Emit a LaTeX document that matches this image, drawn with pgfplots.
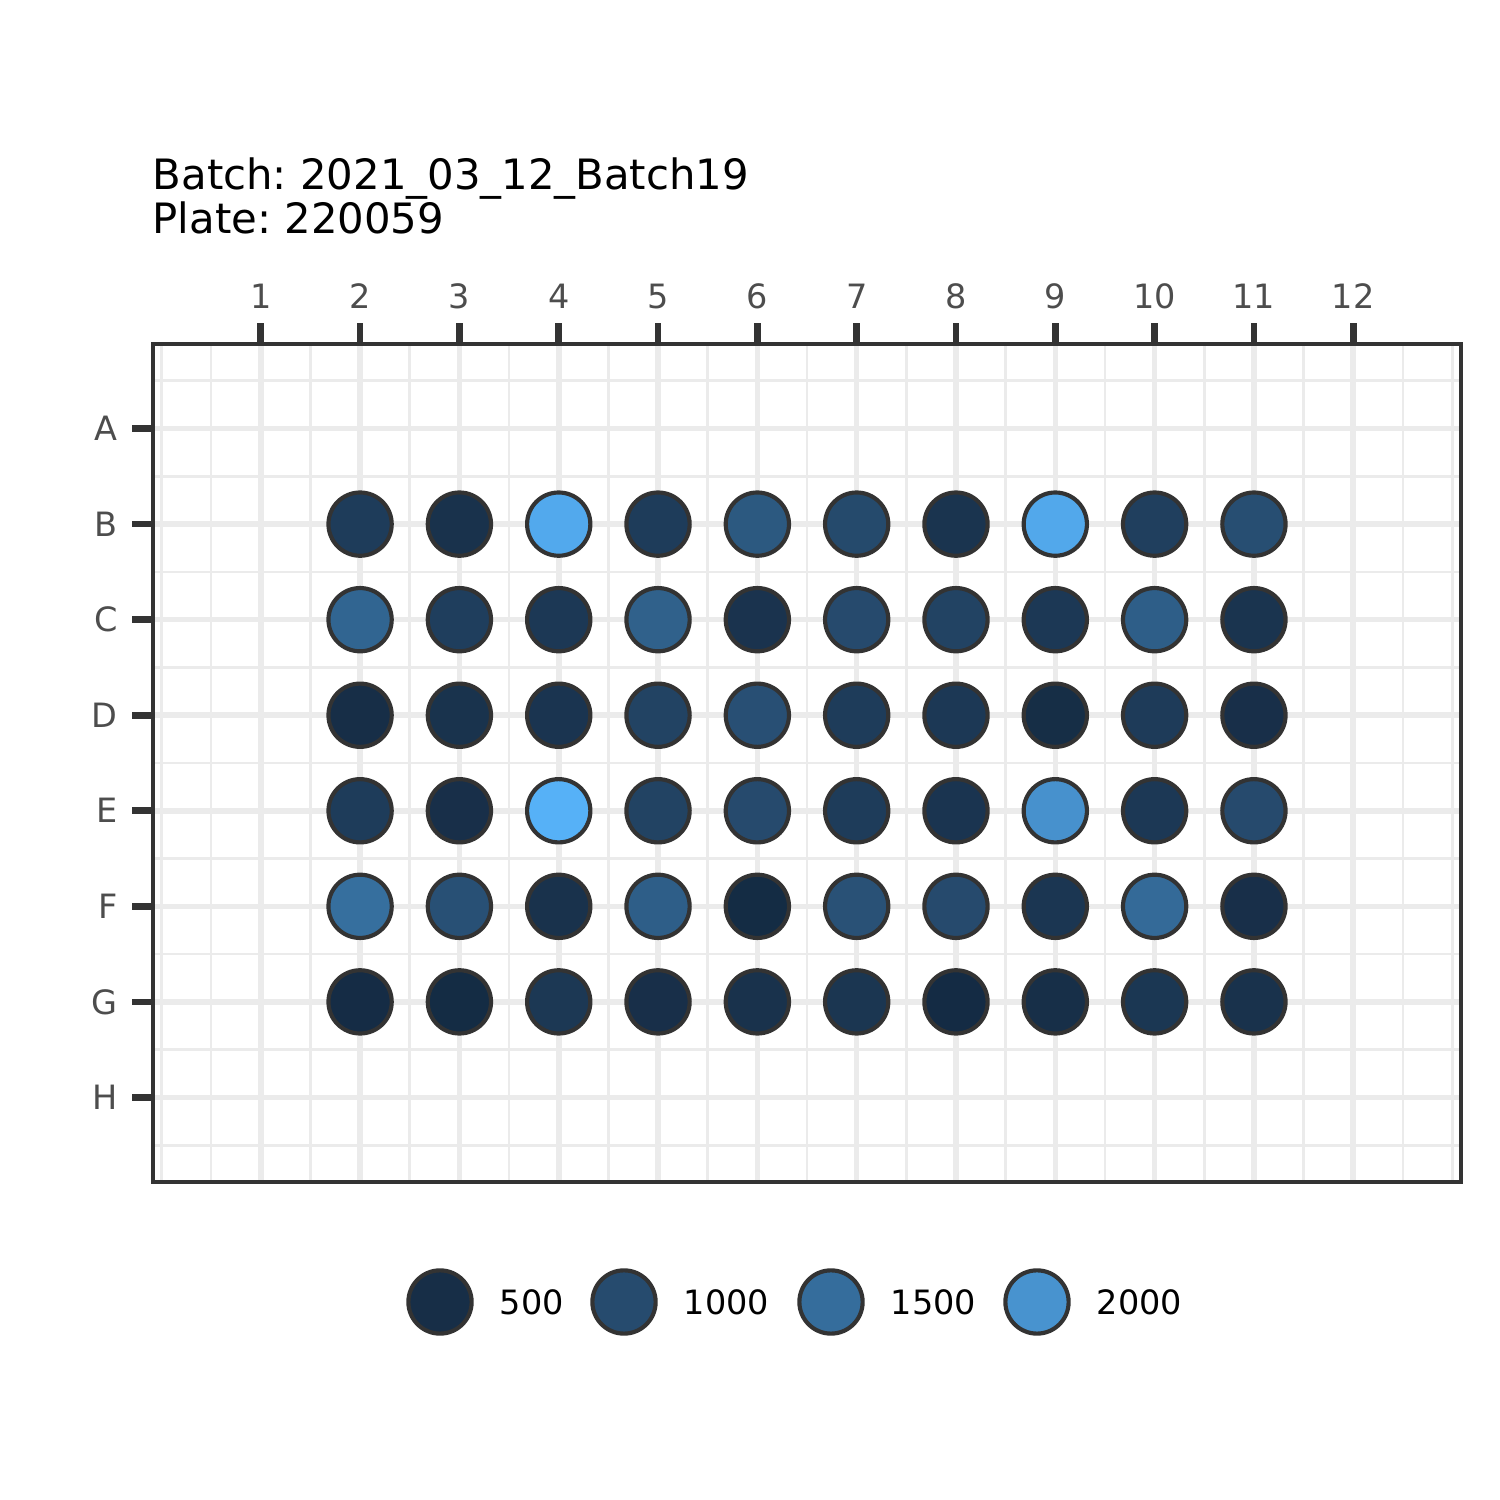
\documentclass[border=0pt]{standalone}
\usepackage{fontspec}
\setmainfont{DejaVu Sans}
\usepackage{pgfplots}
\pgfplotsset{compat=1.18}
\usepackage{pgfplotstable}
\frenchspacing

\definecolor{gridc}{HTML}{EBEBEB}
\definecolor{axc}{HTML}{333333}
\definecolor{tickc}{HTML}{4D4D4D}

\pgfplotsset{colormap={plate}{rgb255(0pt)=(19,43,67) rgb255(7pt)=(23,46,71) rgb255(57pt)=(38,75,110) rgb255(107pt)=(53,109,156) rgb255(157pt)=(72,147,207) rgb255(197pt)=(86,177,247)}}

% col row value  (rows: A=1 ... H=8)
\pgfplotstableread{
col row v
2 2 750
3 2 570
4 2 2300
5 2 750
6 2 1200
7 2 980
8 2 600
9 2 2280
10 2 790
11 2 1040
2 3 1380
3 3 780
4 3 680
5 3 1320
6 3 590
7 3 990
8 3 860
9 3 680
10 3 1280
11 3 600
2 4 500
3 4 580
4 4 610
5 4 860
6 4 1060
7 4 750
8 4 680
9 4 490
10 4 730
11 4 520
2 5 740
3 5 520
4 5 2400
5 5 860
6 5 990
7 5 740
8 5 610
9 5 1980
10 5 680
11 5 990
2 6 1520
3 6 1080
4 6 570
5 6 1280
6 6 450
7 6 1090
8 6 990
9 6 640
10 6 1460
11 6 520
2 7 460
3 7 450
4 7 670
5 7 520
6 7 570
7 7 630
8 7 440
9 7 510
10 7 650
11 7 570
}\wells

\pgfplotstableread{
x y v lab
440 198 500 500
624 198 1000 1000
831 198 1500 1500
1037 198 2000 2000
}\legtab

\begin{document}
\begin{tikzpicture}
\path (0,0) rectangle (361.35pt,361.35pt);
\begin{axis}[
  at={(36.86pt,76.61pt)}, anchor=south west,
  width=315.1pt, height=201.87pt, scale only axis,
  xmin=-0.085, xmax=13.085, ymin=0.115, ymax=8.885,
  y dir=reverse,
  xtick={1,2,3,4,5,6,7,8,9,10,11,12},
  ytick={1,2,3,4,5,6,7,8},
  yticklabels={A,B,C,D,E,F,G,H},
  minor xtick={0,0.5,1.5,2.5,3.5,4.5,5.5,6.5,7.5,8.5,9.5,10.5,11.5,12.5,13},
  minor ytick={0.5,1.5,2.5,3.5,4.5,5.5,6.5,7.5,8.5},
  grid=both,
  major grid style={gridc, line width=1.35pt},
  minor grid style={gridc, line width=0.65pt},
  axis line style={axc, line width=0.85pt},
  xtick pos=right, xticklabel pos=right,
  ytick pos=left,
  tick align=outside,
  major tick length=5pt, minor tick length=0pt,
  major tick style={axc, line width=1.6pt},
  minor tick style={draw=none},
  tick label style={font=\fontsize{8.07pt}{9.7pt}\selectfont, text=tickc},
  /pgf/number format/assume math mode=true,
  colormap name=plate,
  point meta min=430, point meta max=2400,
  clip=false,
]
\addplot[scatter, only marks, mark=*, mark size=7.62pt,
  scatter/use mapped color={draw=axc, fill=mapped color},
  mark options={line width=1pt},
  point meta=\thisrow{v}] table[x=col, y=row] {\wells};
\end{axis}

\begin{axis}[
  at={(0pt,0pt)}, anchor=south west,
  width=361.35pt, height=361.35pt, scale only axis,
  xmin=0, xmax=1500, ymin=0, ymax=1500,
  hide axis, clip=false,
  colormap name=plate,
  point meta min=430, point meta max=2400,
]
\addplot[scatter, only marks, mark=*, mark size=7.62pt,
  scatter/use mapped color={draw=axc, fill=mapped color},
  mark options={line width=1pt},
  point meta=\thisrow{v}] table[x=x, y=y] {\legtab};
\addplot[only marks, mark=none,
  point meta=explicit symbolic,
  nodes near coords,
  every node near coord/.append style={anchor=west, inner sep=0pt, xshift=14.2pt,
     font=\fontsize{8.07pt}{9.7pt}\selectfont, text=black},
  ] table[x=x, y=y, meta=lab] {\legtab};
\end{axis}

\node[anchor=base west, inner sep=0pt, font=\fontsize{10.07pt}{12pt}\selectfont] at (36.6pt,315.8pt) {Batch: 2021\_03\_12\_Batch19};
\node[anchor=base west, inner sep=0pt, font=\fontsize{10.07pt}{12pt}\selectfont] at (36.6pt,304.98pt) {Plate: 220059};
\end{tikzpicture}
\end{document}
